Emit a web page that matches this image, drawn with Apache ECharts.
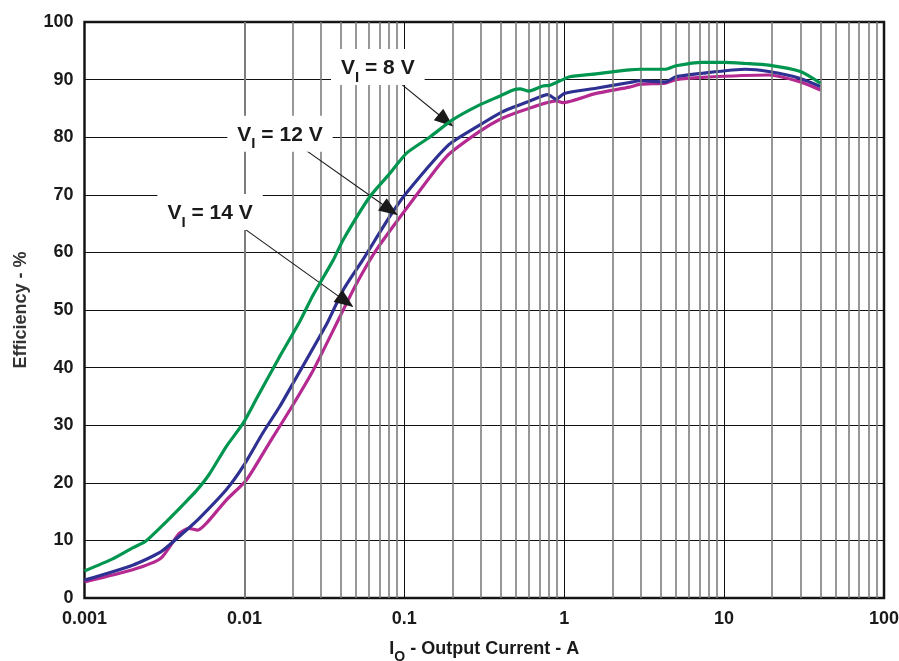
<!DOCTYPE html>
<html>
<head>
<meta charset="utf-8">
<script src="https://cdn.jsdelivr.net/npm/echarts@6/dist/echarts.min.js"></script>
<style>
  html, body { margin: 0; padding: 0; background: #fff; }
  #chart { width: 899px; height: 661px; }
</style>
</head>
<body>
<div id="chart"></div>
<script>
// efficiency curves (current in A, efficiency in %)
const current8 = [0.001, 0.0015, 0.002, 0.0024, 0.0031, 0.0041, 0.005, 0.006, 0.0077, 0.0098, 0.0118, 0.0166, 0.0222, 0.0269, 0.036, 0.0415, 0.061, 0.08, 0.103, 0.144, 0.2, 0.296, 0.4, 0.48, 0.53, 0.6, 0.735, 0.81, 0.98, 1.08, 1.58, 2.56, 3, 4.3, 5, 7.3, 10, 13.6, 19, 30, 40];
const eff8 = [4.7, 6.8, 8.7, 9.8, 12.7, 16.1, 18.6, 21.4, 26.3, 30.3, 34.4, 41.9, 48, 52.6, 58.7, 62.2, 69.7, 73.5, 77.2, 80.0, 83.0, 85.6, 87.2, 88.2, 88.4, 88.0, 88.9, 89.0, 90.0, 90.5, 91.0, 91.7, 91.8, 91.8, 92.4, 93.0, 93.0, 92.8, 92.5, 91.4, 89.4];

const current12 = [0.001, 0.002, 0.003, 0.0041, 0.0052, 0.0077, 0.0098, 0.013, 0.0166, 0.0196, 0.0329, 0.0415, 0.055, 0.081, 0.103, 0.19, 0.296, 0.41, 0.6, 0.79, 0.89, 1.0, 1.58, 2.56, 3, 4.3, 5, 7.3, 13.6, 19, 30, 40];
const eff12 = [3.1, 5.7, 8.0, 11.2, 13.8, 18.8, 22.8, 28.6, 33.2, 36.7, 47.7, 53.5, 58.7, 66.2, 70.3, 78.7, 82.1, 84.4, 86.2, 87.4, 86.6, 87.6, 88.5, 89.5, 89.8, 89.6, 90.5, 91.1, 91.8, 91.4, 90.2, 88.8];

const current14 = [0.001, 0.002, 0.003, 0.0039, 0.0045, 0.0051, 0.0058, 0.0077, 0.0103, 0.0143, 0.0192, 0.027, 0.0395, 0.0503, 0.0667, 0.113, 0.183, 0.296, 0.41, 0.6, 0.89, 0.98, 1.58, 2.56, 3, 4.3, 5, 7.3, 19, 30, 40];
const eff14 = [2.8, 4.9, 6.9, 11.2, 12.1, 11.8, 13.0, 17.0, 20.5, 26.9, 32.6, 39.6, 48.8, 54.6, 60.4, 69.1, 76.6, 81.0, 83.3, 85.0, 86.3, 86.0, 87.6, 88.7, 89.2, 89.4, 90.0, 90.4, 90.8, 89.6, 88.2];

// minor log grid lines (2..9 of each decade)
const minorCurrents = [];
[0.001, 0.01, 0.1, 1, 10].forEach(function (d) {
    for (let k = 2; k <= 9; k++) minorCurrents.push(+(d * k).toPrecision(3));
});

const xTickLabels = { '0.001': '0.001', '0.01': '0.01', '0.1': '0.1', '1': '1', '10': '10', '100': '100' };

// annotation labels: label position, arrow start, arrow end (data units)
const annotations = [
    { volts: '8', label: [0.0683, 92.2], from: [0.0893, 89.9], to: [0.182, 82.9] },
    { volts: '12', label: [0.0167, 80.6], from: [0.0197, 79.5], to: [0.0815, 67.4] },
    { volts: '14', label: [0.0061, 67.0], from: [0.00902, 65.0], to: [0.043, 51.5] }
];

const FONT = 'Liberation Sans, Arial, sans-serif';

function pairs(xs, ys) {
    return xs.map(function (x, i) { return [x, ys[i]]; });
}

const chart = echarts.init(document.getElementById('chart'));

const option = {
    backgroundColor: '#fff',
    animation: false,
    grid: {
        left: 84.5, right: 15, top: 22, bottom: 63,
        outerBoundsMode: 'none', containLabel: false,
        show: true, borderColor: '#1a1a1a', borderWidth: 2.5, backgroundColor: 'transparent'
    },
    xAxis: {
        type: 'log', logBase: 10, min: 0.001, max: 100,
        name: '{t|I}{s|O}{t| - Output Current - A}',
        nameLocation: 'middle', nameGap: 36,
        nameTextStyle: {
            rich: {
                t: { fontFamily: FONT, fontWeight: 'bold', fontSize: 18, color: '#1a1a1a', lineHeight: 30 },
                s: { fontFamily: FONT, fontWeight: 'bold', fontSize: 14, color: '#1a1a1a', verticalAlign: 'bottom' }
            }
        },
        axisLine: { show: false },
        axisTick: { show: false },
        axisLabel: {
            margin: 12,
            fontFamily: FONT, fontWeight: 'bold', fontSize: 18, color: '#1a1a1a',
            formatter: function (v) { return xTickLabels[String(+v.toPrecision(3))] || ''; }
        },
        splitLine: { show: true, lineStyle: { color: '#111', width: 1 } },
        minorTick: { show: false },
        minorSplitLine: { show: false }
    },
    yAxis: {
        type: 'value', min: 0, max: 100, interval: 10,
        name: 'Efficiency - %',
        nameLocation: 'middle', nameGap: 54,
        nameTextStyle: { fontFamily: FONT, fontWeight: 'bold', fontSize: 18, color: '#333' },
        axisLine: { show: false },
        axisTick: { show: false },
        axisLabel: { margin: 11, fontFamily: FONT, fontWeight: 'bold', fontSize: 18, color: '#1a1a1a' },
        splitLine: { show: true, lineStyle: { color: '#111', width: 1 } }
    },
    series: [
        {
            name: 'grid-minor', type: 'line', data: [], z: 1, silent: true,
            markLine: {
                silent: true, symbol: 'none', animation: false,
                label: { show: false },
                lineStyle: { color: '#7d7d7d', width: 1.6, type: 'solid' },
                data: minorCurrents.map(function (c) { return { xAxis: c }; })
            }
        },
        {
            name: 'VI = 14 V', type: 'line', data: pairs(current14, eff14),
            showSymbol: false, smooth: 0.2, z: 3,
            lineStyle: { color: '#b52a91', width: 3.2 }
        },
        {
            name: 'VI = 12 V', type: 'line', data: pairs(current12, eff12),
            showSymbol: false, smooth: 0.2, z: 4,
            lineStyle: { color: '#2e3192', width: 3.2 }
        },
        {
            name: 'VI = 8 V', type: 'line', data: pairs(current8, eff8),
            showSymbol: false, smooth: 0.2, z: 5,
            lineStyle: { color: '#00964f', width: 3.2 }
        },
        {
            name: 'annotations', type: 'line', data: [], z: 10, silent: true,
            markLine: {
                silent: true, animation: false,
                symbol: ['none', 'triangle'], symbolSize: [15, 19],
                label: { show: false },
                lineStyle: { color: '#1a1a1a', width: 1.1, type: 'solid' },
                data: annotations.map(function (a) {
                    return [{ coord: a.from }, { coord: a.to }];
                })
            },
            markPoint: {
                silent: true, animation: false,
                symbol: 'rect', symbolSize: 0,
                label: {
                    show: true, position: 'inside',
                    backgroundColor: '#fff', padding: [2, 10, 0, 10],
                    rich: {
                        t: { fontFamily: FONT, fontWeight: 'bold', fontSize: 21, color: '#1a1a1a', lineHeight: 34 },
                        s: { fontFamily: FONT, fontWeight: 'bold', fontSize: 15, color: '#1a1a1a', verticalAlign: 'bottom' }
                    }
                },
                data: annotations.map(function (a) {
                    return {
                        coord: a.label,
                        label: { formatter: '{t|V}{s|I}{t| = ' + a.volts + ' V}' }
                    };
                })
            }
        }
    ]
};

chart.setOption(option);
</script>
</body>
</html>
